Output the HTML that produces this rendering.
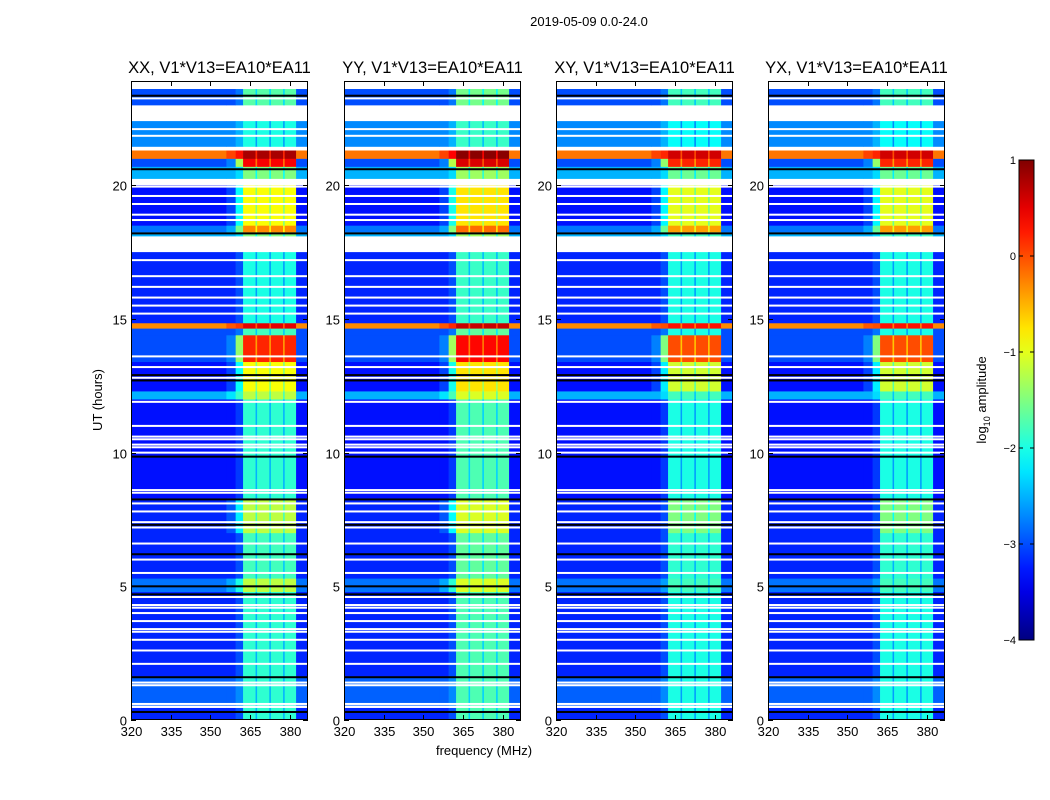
<!DOCTYPE html>
<html><head><meta charset="utf-8"><style>
body{margin:0;background:#fff;}
svg{display:block;font-family:"Liberation Sans",sans-serif;}
</style></head><body>
<svg id="fig" width="1050" height="800" viewBox="0 0 1050 800">
<text x="589" y="26" font-size="13" text-anchor="middle">2019-05-09 0.0-24.0</text>
<text x="484" y="755" font-size="13" text-anchor="middle">frequency (MHz)</text>
<text transform="translate(102,400) rotate(-90)" font-size="13" text-anchor="middle">UT (hours)</text>
<g id="panels"></g>
<g id="cbar"></g>
</svg>
<script>
const panelTitles = ["XX, V1*V13=EA10*EA11","YY, V1*V13=EA10*EA11","XY, V1*V13=EA10*EA11","YX, V1*V13=EA10*EA11"];
const xTicks = [320,335,350,365,380];
const yTicks = [0,5,10,15,20];
const cbTicks = [1,0,-1,-2,-3,-4];
const segStart = [0.0,0.55,1.6,4.8,5.3,7.0,8.3,12.0,12.3,13.4,14.4,14.65,14.85,18.1,18.25,18.5,20.25,20.7,21.0,21.45,23.0];
const segEnd   = [0.45,1.6,4.8,5.3,7.0,8.3,12.0,12.3,13.4,14.4,14.65,14.85,17.5,18.25,18.5,20.0,20.7,21.0,21.3,22.4,23.6];
const segBg    = [-3.2,-2.9,-3.2,-2.8,-3.2,-3.2,-3.3,-2.5,-3.3,-3.0,-3.0,-0.3,-3.2,-2.5,-2.8,-3.3,-2.5,-3.0,-0.2,-2.7,-3.0];
const segBandCo= [-1.9,-1.9,-1.9,-1.2,-1.8,-1.2,-1.9,-1.2,-0.9,0.2,-1.8,0.5,-2.0,-1.5,-0.3,-0.9,-1.5,0.4,0.8,-2.0,-1.7];
const segBandCx= [-2.0,-2.0,-2.0,-1.8,-1.9,-1.5,-2.0,-1.8,-1.1,0.0,-2.0,0.3,-2.0,-1.8,-0.4,-1.0,-1.6,0.2,0.6,-2.1,-1.8];
const whiteLines = [23.25,22.1,21.85,19.95,19.6,19.3,18.9,18.7,17.2,16.6,16.2,15.8,15.5,15.2,13.6,13.2,12.8,11.9,11.0,10.6,10.5,10.3,10.2,10.0,8.6,8.5,8.1,7.8,7.4,7.2,6.6,6.0,5.5,4.6,4.3,4.2,4.0,3.7,3.4,3.3,3.0,2.6,2.1,1.4,1.3,0.6];
const blackLines = [23.35,20.6,18.2,12.9,12.7,9.85,8.25,7.3,6.2,5.0,4.7,1.6,0.3];
const colEdges = [320,356,359.5,362.3,367,367.6,372.2,372.8,377.4,378,382.3,387];
const colType  = ["bg","edge","edge2","band","gap","band","gap","band","gap","band","bg"];

const panelX = [131,344,556,768];
const PW = 177, PT = 81, PB = 720;
const X0 = 320, X1 = 386.8, Y0 = 0, Y1 = 23.9;
const NS = "http://www.w3.org/2000/svg";
function jet(v){
  let t = (v+4)/5; t = Math.max(0,Math.min(1,t));
  const r = Math.max(0,Math.min(1,1.5-Math.abs(4*t-3)));
  const g = Math.max(0,Math.min(1,1.5-Math.abs(4*t-2)));
  const b = Math.max(0,Math.min(1,1.5-Math.abs(4*t-1)));
  return `rgb(${Math.round(r*255)},${Math.round(g*255)},${Math.round(b*255)})`;
}
function mk(tag, attrs, parent){ const e=document.createElementNS(NS,tag); for(const k in attrs) e.setAttribute(k,attrs[k]); parent.appendChild(e); return e; }
const panels = document.getElementById('panels');
const defs = mk('defs',{},panels);
panelX.forEach((px,p)=>{
  const xs = f => px + (f-X0)/(X1-X0)*PW;
  const ys = h => PB - (h-Y0)/(Y1-Y0)*(PB-PT);
  const cp = mk('clipPath',{id:'clip'+p},defs);
  mk('rect',{x:px,y:PT,width:PW,height:PB-PT},cp);
  const g = mk('g',{'clip-path':'url(#clip'+p+')'},panels);
  
  
  const band = p<2 ? segBandCo : segBandCx;
  const boost = p===1 ? 0.15 : 0;
  for(let s=0;s<segStart.length;s++){
    for(let c=0;c<colType.length;c++){
      const bg=segBg[s], bd=band[s]+boost;
      let v;
      const t=colType[c];
      if(t==="bg") v=bg;
      else if(t==="band") v=bd;
      else if(t==="gap") v=bd-0.6;
      else if(t==="edge") v = bd>-1.3 ? bg+0.25 : bg;
      else v = bd>-1.3 ? (bg+bd)/2 : bg+0.2;
      const r = mk('rect',{x:xs(colEdges[c]),y:ys(segEnd[s]),width:xs(colEdges[c+1])-xs(colEdges[c])+0.3,height:ys(segStart[s])-ys(segEnd[s])+0.3,fill:jet(v)},g);
      
      
    }
  }
  blackLines.forEach(h=>{
    const r = mk('rect',{x:px,y:ys(h)-1,width:PW,height:2,fill:'#000'},g);
    
    
  });
  whiteLines.forEach(h=>{
    const r = mk('rect',{x:px,y:ys(h)-1,width:PW,height:2,fill:'#fff'},g);
    
    
  });
  const fr = mk('rect',{x:px+0.5,y:PT+0.5,width:PW-1,height:PB-PT-1,fill:'none',stroke:'#000','stroke-width':1},panels);
  
  
  const tt = mk('text',{x:px+PW/2,y:73,'font-size':16.5,'text-anchor':'middle'},panels);
  tt.textContent = panelTitles[p];
  
  
  xTicks.forEach(f=>{
    const x=Math.round(xs(f))+0.5;
    mk('line',{x1:x,x2:x,y1:PB,y2:PB-5,stroke:'#000'},panels);
    mk('line',{x1:x,x2:x,y1:PT,y2:PT+5,stroke:'#000'},panels);
    const t = mk('text',{x:x,y:PB+16,'font-size':13,'text-anchor':'middle'},panels);
    t.textContent = f;
    
    
  });
  yTicks.forEach(h=>{
    const y=Math.round(ys(h))+0.5;
    mk('line',{x1:px,x2:px+5,y1:y,y2:y,stroke:'#000'},panels);
    mk('line',{x1:px+PW,x2:px+PW-5,y1:y,y2:y,stroke:'#000'},panels);
    const t = mk('text',{x:px-4,y:y+5,'font-size':13,'text-anchor':'end'},panels);
    t.textContent = h;
    
    
  });
});
// colorbar
const cb = document.getElementById('cbar');
const CX=1019, CW=15, CT=160, CB=640;
const gd = mk('linearGradient',{id:'jetg',x1:0,y1:1,x2:0,y2:0},defs);
for(let i=0;i<=20;i++){ mk('stop',{offset:i/20,'stop-color':jet(-4+5*i/20)},gd); }
mk('rect',{x:CX,y:CT,width:CW,height:CB-CT,fill:'url(#jetg)',stroke:'#000'},cb);
cbTicks.forEach(v=>{
  const y = CB - (v+4)/5*(CB-CT);
  mk('line',{x1:CX,x2:CX+4,y1:y,y2:y,stroke:'#000'},cb);
  mk('line',{x1:CX+CW,x2:CX+CW-4,y1:y,y2:y,stroke:'#000'},cb);
  const t = mk('text',{x:CX-3,y:y+4,'font-size':11,'text-anchor':'end'},cb);
  t.textContent = v<0 ? '\u2212'+(-v) : v;
  
  
});
const cl = mk('text',{transform:'translate(986,400) rotate(-90)','font-size':13,'text-anchor':'middle'},cb);
cl.innerHTML = 'log<tspan font-size="9" dy="4">10</tspan><tspan dy="-4"> amplitude</tspan>';


</script>
</body></html>
